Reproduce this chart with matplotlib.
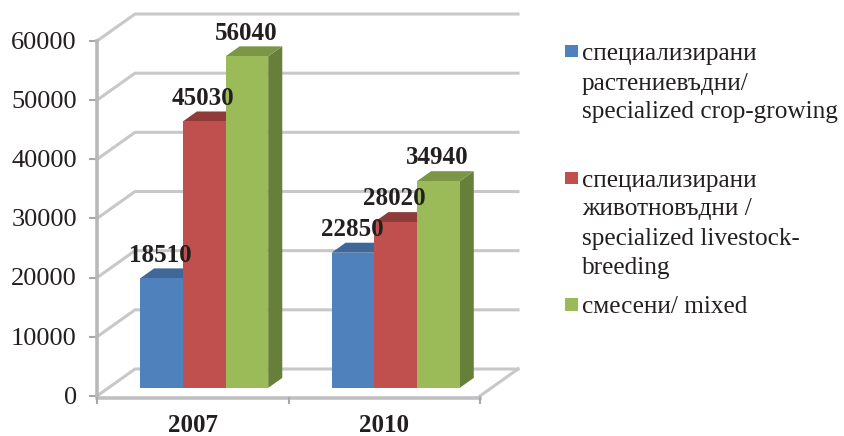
import matplotlib
matplotlib.use("Agg")
import matplotlib.pyplot as plt
from matplotlib.patches import Polygon, Rectangle

plt.rcParams["font.family"] = ["Liberation Serif", "DejaVu Serif"]

years = ["2007", "2010"]
crop = [18510, 22850]
livestock = [45030, 28020]
mixed = [56040, 34940]
y_ticks = [0, 10000, 20000, 30000, 40000, 50000, 60000]
legend_lines = [
    ["специализирани", "растениевъдни/", "specialized crop-growing"],
    ["специализирани", "животновъдни /", "specialized livestock-", "breeding"],
    ["смесени/ mixed"],
]

front = ["#4f81bd", "#c0504d", "#9bbb59"]
top = ["#3f6797", "#8e3b39", "#7b9647"]
side = ["#3a5f8c", "#7f3533", "#66803a"]
grid_col = "#c8c8c8"
text_col = "#231f20"

W, H = 844, 436
# depth of the 3d box, in data units
DX = 38 / 191.5
DY = 27 / 355 * 60000
bar_w = 0.223
d0, d1 = 0.3, 0.67


def p(x, y, d=0.0):
    return (x + DX * d, y + DY * d)


fig = plt.figure(figsize=(W / 100, H / 100), dpi=100)
ax = fig.add_axes([97 / W, 1 - 396 / H, 383 / W, 355 / H])
ax.set_xlim(0, 2)
ax.set_ylim(0, 60000)
ax.axis("off")

# back wall + left wall gridlines
for v in y_ticks:
    xs, ys = zip(p(0, v), p(0, v, 1), p(2, v, 1))
    ax.plot(xs, ys, color=grid_col, lw=2.2, clip_on=False, zorder=1, solid_joinstyle="round")
    xs, ys = zip(p(0, v), p(-0.035, v))
    ax.plot(xs, ys, color="#a8a8a8", lw=1.5, clip_on=False, zorder=2)

# floor
xs, ys = zip(p(2, 0), p(2, 0, 1))
ax.plot(xs, ys, color=grid_col, lw=2.2, clip_on=False, zorder=1)
ax.plot([0, 0], [0, 60000], color="#b8b8b8", lw=2.6, clip_on=False, zorder=2)
ax.plot([0, 2], [-300, -300], color="#c0c0c0", lw=2.6, clip_on=False, zorder=2)
for x in [0, 1, 2]:
    ax.plot([x, x], [-300, -1200], color="#a8a8a8", lw=1.5, clip_on=False, zorder=2)

# bars
series = [crop, livestock, mixed]
for i, year in enumerate(years):
    c = i + 0.5
    for s, vals in enumerate(series):
        v = vals[i]
        x0 = c + (s - 1.5) * bar_w
        x1 = x0 + bar_w
        z = 3 + s
        ax.add_patch(Polygon([p(x1, 0, d0), p(x1, 0, d1), p(x1, v, d1), p(x1, v, d0)],
                             color=side[s], lw=0, zorder=z, clip_on=False))
        ax.add_patch(Polygon([p(x0, v, d0), p(x1, v, d0), p(x1, v, d1), p(x0, v, d1)],
                             color=top[s], lw=0, zorder=z, clip_on=False))
        ax.add_patch(Polygon([p(x0, 0, d0), p(x1, 0, d0), p(x1, v, d0), p(x0, v, d0)],
                             color=front[s], lw=0, zorder=z, clip_on=False))
        lx, ly = p(x0 + bar_w * 0.5, v, d1)
        lx = p(x0 + bar_w * 0.5, v, d0)[0] - 0.005
        ax.text(lx, ly + 300, str(v), ha="center", va="bottom", fontsize=18,
                fontweight="bold", color=text_col, zorder=10, clip_on=False)
    ax.text(c, -4950, year, ha="center", va="center", fontsize=18, fontweight="bold",
            color=text_col, clip_on=False)

for v in y_ticks:
    ax.text(-0.105, v - 300, str(v), ha="right", va="center", fontsize=19, color=text_col,
            clip_on=False)

# legend, placed in figure pixels
line_y = [[60, 90, 118], [187, 215, 245, 274], [313]]
box_y = [45, 172, 298]
for s, lines in enumerate(legend_lines):
    fig.add_artist(Rectangle((565 / W, 1 - (box_y[s] + 12.5) / H), 13 / W, 12.5 / H,
                             transform=fig.transFigure, color=front[s], lw=0))
    for txt, y in zip(lines, line_y[s]):
        fig.text(582 / W, 1 - y / H, txt, ha="left", va="baseline", fontsize=18.2, color=text_col)

fig.savefig("out.png", dpi=100)
